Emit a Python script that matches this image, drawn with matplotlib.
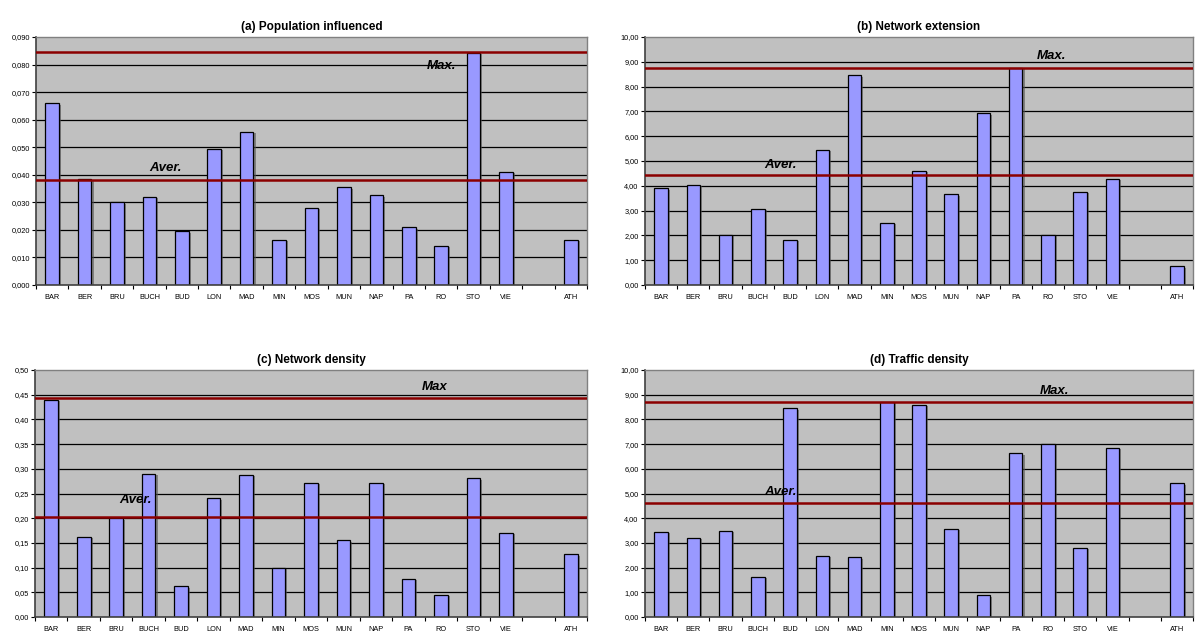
import matplotlib
matplotlib.use("Agg")
import matplotlib.pyplot as plt
from matplotlib.ticker import FuncFormatter, FixedLocator
import matplotlib.patheffects as pe

plt.rcParams["font.family"] = ["Liberation Sans", "DejaVu Sans"]

# Cities (an empty slot separates ATH from the others)
cities = ["BAR", "BER", "BRU", "BUCH", "BUD", "LON", "MAD", "MIN", "MOS",
          "MUN", "NAP", "PA", "RO", "STO", "VIE", "", "ATH"]

population = [0.066, 0.0385, 0.030, 0.032, 0.0195, 0.0495, 0.0555, 0.0165, 0.028,
              0.0355, 0.0325, 0.021, 0.0143, 0.0843, 0.041, None, 0.0165]
extension = [3.90, 4.05, 2.02, 3.07, 1.83, 5.45, 8.45, 2.52, 4.60,
             3.66, 6.93, 8.75, 2.03, 3.76, 4.29, None, 0.75]
net_density = [0.440, 0.162, 0.200, 0.290, 0.062, 0.240, 0.288, 0.100, 0.272,
               0.155, 0.272, 0.077, 0.045, 0.281, 0.170, None, 0.127]
traffic = [3.45, 3.20, 3.50, 1.63, 8.45, 2.47, 2.42, 8.72, 8.60,
           3.56, 0.88, 6.62, 7.00, 2.80, 6.84, None, 5.42]

# Reference lines: (maximum, average)
pop_lines = (0.0845, 0.038)
ext_lines = (8.75, 4.42)
dens_lines = (0.443, 0.203)
traf_lines = (8.72, 4.60)

W, H = 1195, 635
fig = plt.figure(figsize=(W / 100, H / 100), dpi=100)
fig.patch.set_facecolor("white")


def rect(l, t, r, b):
    return [l / W, 1 - b / H, (r - l) / W, (b - t) / H]


def comma_fmt(decimals):
    return FuncFormatter(lambda v, p: f"{v:.{decimals}f}".replace(".", ","))


def panel(box, title, values, ymax, ystep, decimals, lines,
          max_label, max_pos, aver_pos):
    ax = fig.add_axes(rect(*box))
    ax.set_facecolor("#C0C0C0")
    n = len(cities)
    ax.set_xlim(-0.5, n - 0.5)
    ax.set_ylim(0, ymax)

    # horizontal gridlines
    nt = int(round(ymax / ystep))
    yt = [i * ystep for i in range(nt + 1)]
    ax.set_yticks(yt)
    ax.yaxis.set_major_formatter(comma_fmt(decimals))
    for y in yt[1:-1]:
        ax.axhline(y, color="black", lw=0.9, zorder=1)

    xs = [i for i, v in enumerate(values) if v is not None]
    hs = [v for v in values if v is not None]
    ax.bar(xs, hs, width=0.42, color="#9999FF", edgecolor="black",
           linewidth=0.9, zorder=2,
           path_effects=[pe.SimplePatchShadow(offset=(1.5, -1), shadow_rgbFace="#555555",
                                              alpha=0.6), pe.Normal()])

    mx, av = lines
    ax.axhline(mx, color="#8B0000", lw=1.8, zorder=3)
    ax.axhline(av, color="#8B0000", lw=1.8, zorder=3)
    ax.text(max_pos[0], max_pos[1], max_label, ha="center", va="center",
            fontsize=9.5, fontweight="bold", style="italic", zorder=4)
    ax.text(aver_pos[0], aver_pos[1], "Aver.", ha="center", va="center",
            fontsize=9.5, fontweight="bold", style="italic", zorder=4)

    # category labels between boundary ticks
    ax.set_xticks(range(n))
    ax.set_xticklabels(cities, fontsize=5.3)
    ax.tick_params(axis="x", which="major", length=0, pad=6.5)
    ax.xaxis.set_minor_locator(FixedLocator([i + 0.5 for i in range(-1, n)]))
    ax.tick_params(axis="x", which="minor", length=3, width=0.8, direction="out")
    ax.tick_params(axis="y", length=3, width=0.8, pad=1.5, labelsize=5.3)

    for s in ("top", "right"):
        ax.spines[s].set_color("#808080")
        ax.spines[s].set_linewidth(1.0)
    ax.spines["left"].set_color("#404040")
    ax.spines["bottom"].set_color("#404040")
    ax.spines["left"].set_linewidth(1.2)
    ax.spines["bottom"].set_linewidth(1.2)

    ax.set_title(title, fontsize=8.5, fontweight="bold", pad=5)
    return ax


panel((36, 37, 587, 285), "(a) Population influenced", population, 0.09, 0.01, 3,
      pop_lines, "Max.", (12.0, 0.0795), (3.5, 0.0425))
panel((645, 37, 1193, 285), "(b) Network extension", extension, 10.0, 1.0, 2,
      ext_lines, "Max.", (12.1, 9.25), (3.7, 4.85))
panel((35, 370, 587, 617), "(c) Network density", net_density, 0.50, 0.05, 2,
      dens_lines, "Max", (11.8, 0.4655), (2.6, 0.236))
panel((645, 370, 1193, 617), "(d) Traffic density", traffic, 10.0, 1.0, 2,
      traf_lines, "Max.", (12.2, 9.14), (3.7, 5.07))

fig.savefig("out.png", dpi=100, facecolor="white")
